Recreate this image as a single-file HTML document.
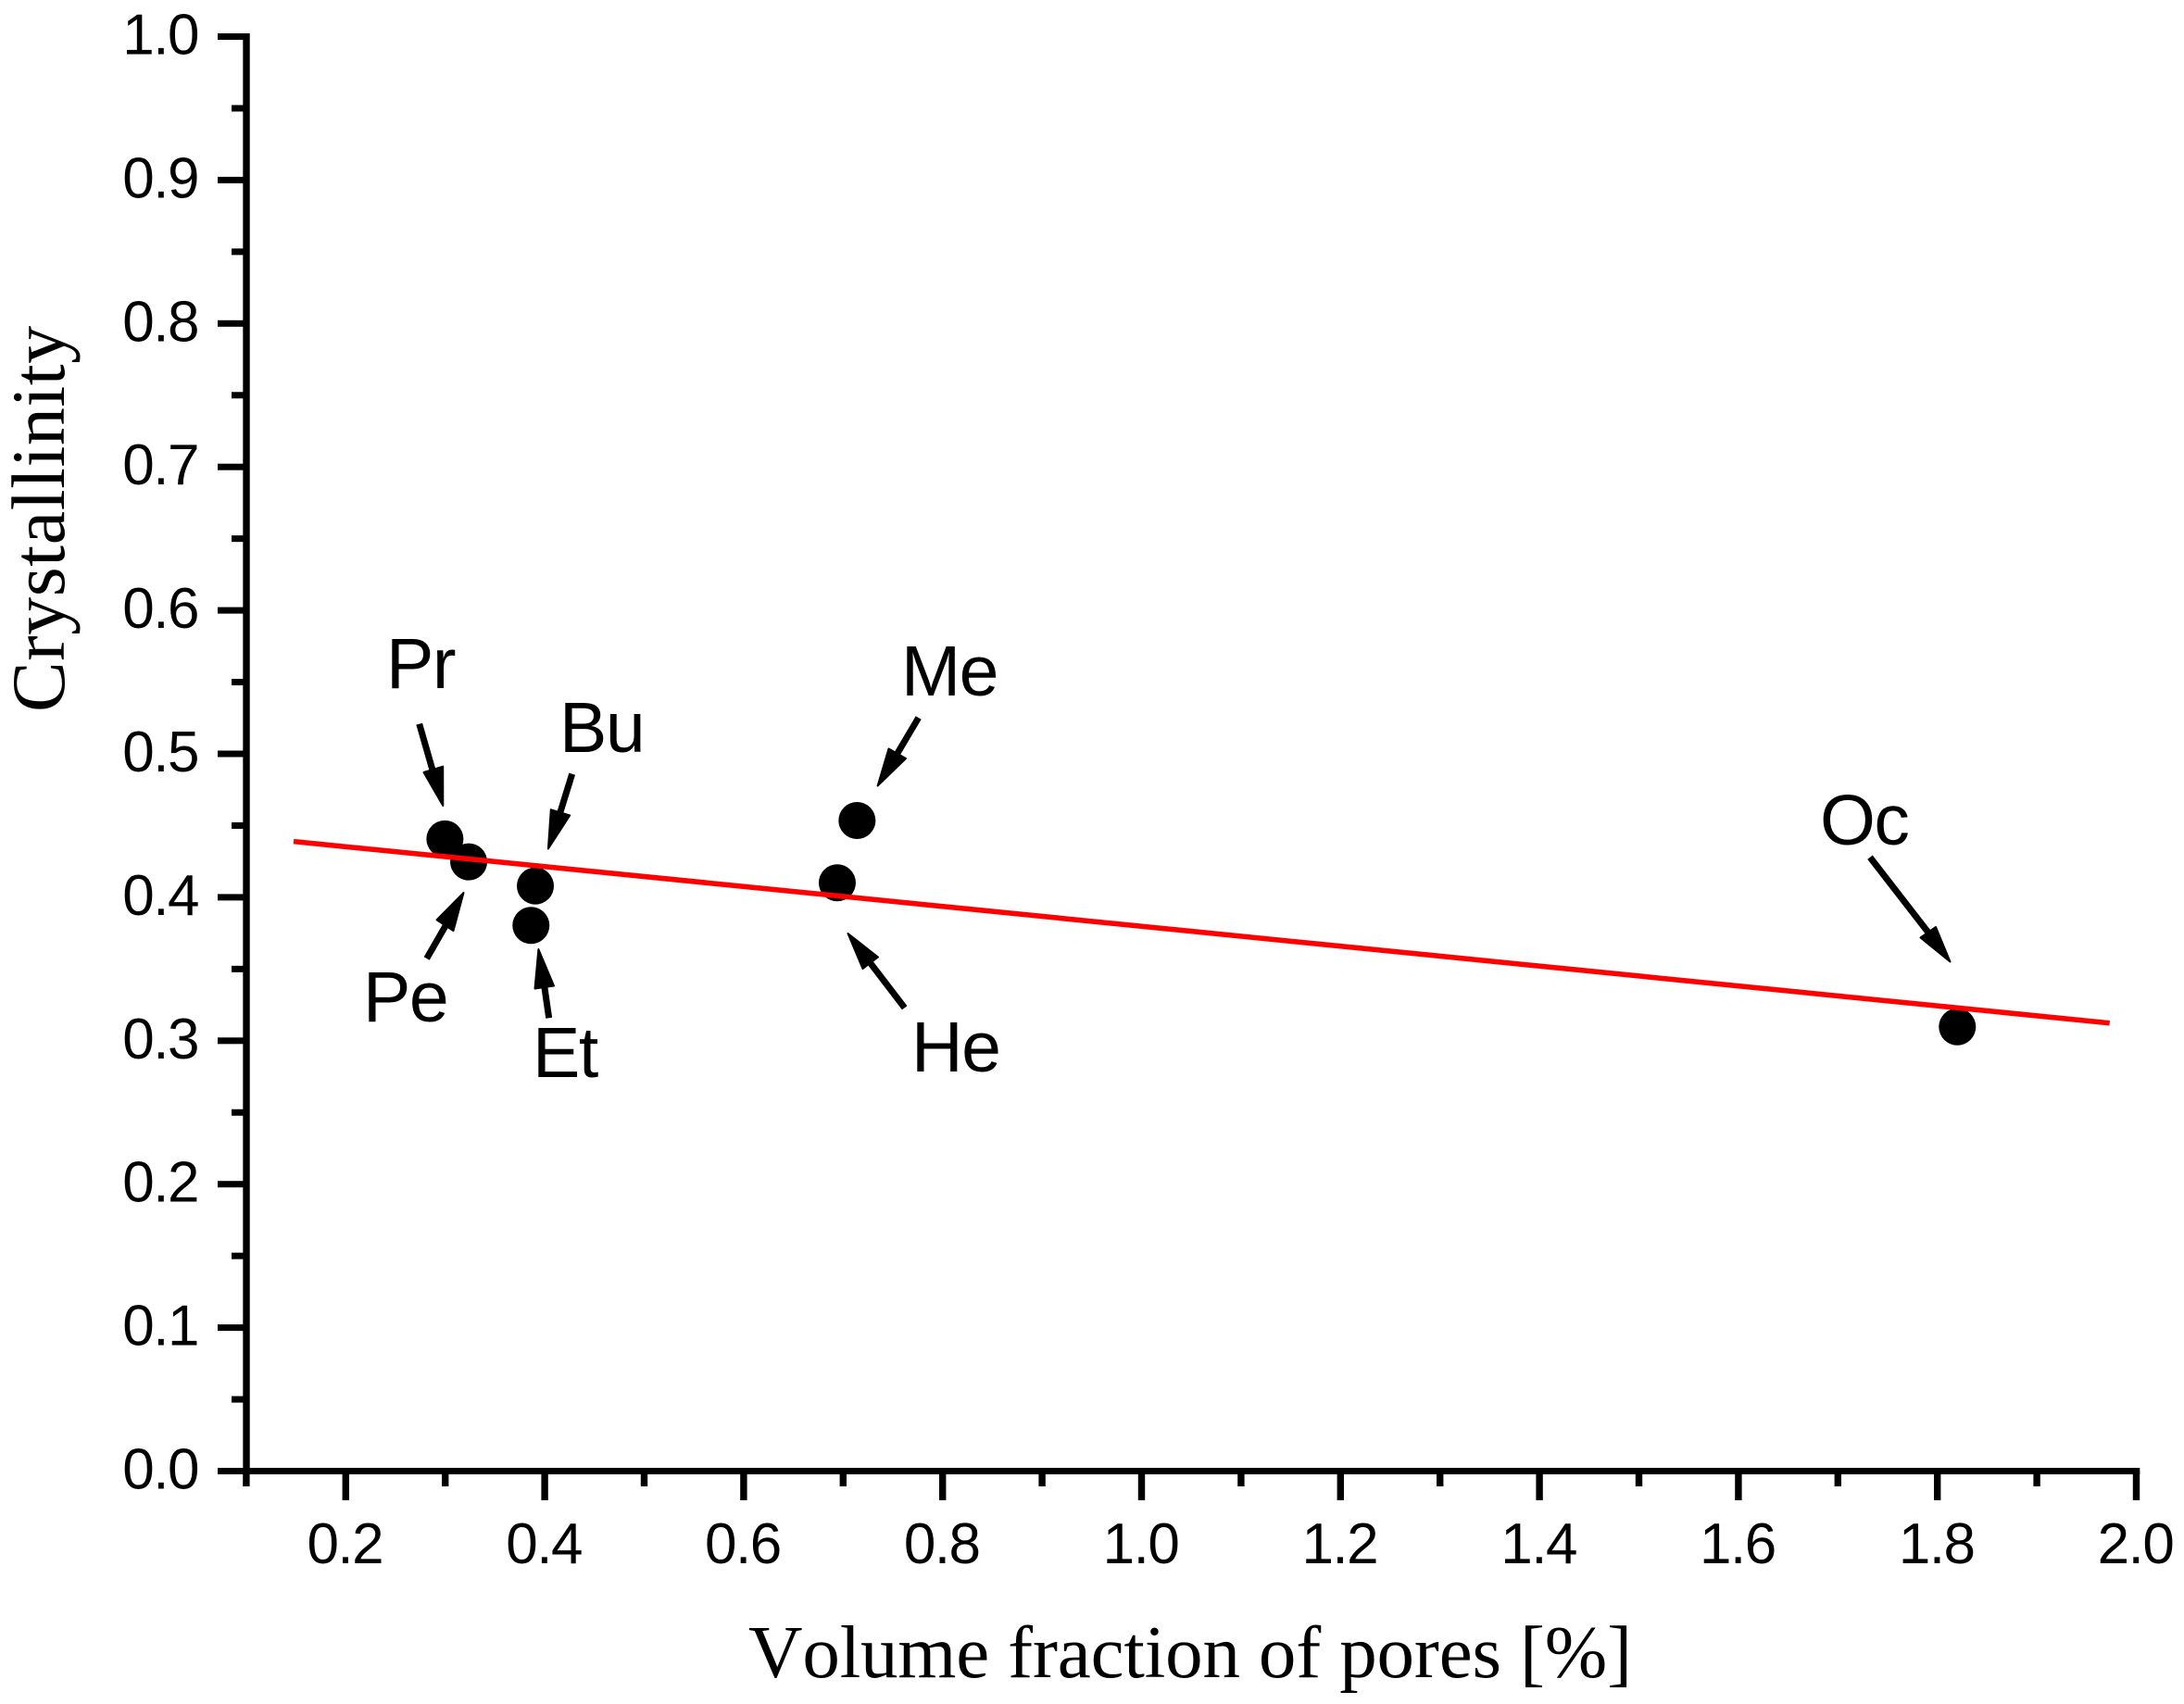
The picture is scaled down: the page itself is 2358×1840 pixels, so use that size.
<!DOCTYPE html>
<html lang="en">
<head>
<meta charset="utf-8">
<title>Crystallinity vs volume fraction of pores</title>
<style>
html,body{margin:0;padding:0;background:#fff;width:2358px;height:1840px;overflow:hidden}
svg{display:block}
.tick{font-family:"Liberation Sans",Arial,sans-serif;font-size:62px;letter-spacing:-1.5px;fill:#000}
.note{font-family:"Liberation Sans",Arial,sans-serif;font-size:77px;letter-spacing:-1.5px;fill:#000}
.title{font-family:"Liberation Serif","Times New Roman",serif;fill:#000;font-kerning:none}
.title-x{font-size:81px;letter-spacing:-0.15px}
.title-y{font-size:82px;letter-spacing:0.6px}
.shaft{stroke:#000;stroke-width:7;fill:none}
.head{fill:#000;stroke:#000;stroke-width:2;stroke-linejoin:round}
</style>
</head>
<body>
<svg id="chart" xmlns="http://www.w3.org/2000/svg" width="2358" height="1840" viewBox="0 0 2358 1840">
  <rect width="2358" height="1840" fill="#fff"/>
  <g id="point-layer"></g>
  <g id="fit-top-layer"></g>
  <g id="axis-layer"></g>

  <text class="title title-y" transform="translate(69 769) rotate(-90)">Crystallinity</text>
  <text class="title title-x" x="808" y="1811">Volume fraction of pores [%]</text>

  <g>
    <text class="note" x="417" y="743">Pr</text>
    <line class="shaft" x1="452.7" y1="781.7" x2="468" y2="835"/>
    <polygon class="head" points="478.3,870 457.5,834 478.2,827.7"/>
  </g>
  <g>
    <text class="note" x="604" y="812">Bu</text>
    <line class="shaft" x1="617.7" y1="835.7" x2="604" y2="880"/>
    <polygon class="head" points="591.9,916.5 594.8,874.3 615.2,880.5"/>
  </g>
  <g>
    <text class="note" x="392" y="1103">Pe</text>
    <line class="shaft" x1="460.7" y1="1035" x2="482" y2="998"/>
    <polygon class="head" points="500.5,964 471.5,993.3 489.5,1005"/>
  </g>
  <g>
    <text class="note" x="575" y="1163">Et</text>
    <line class="shaft" x1="592.7" y1="1099.3" x2="587" y2="1060"/>
    <polygon class="head" points="581.4,1025 577.5,1067.5 598,1064.5"/>
  </g>
  <g>
    <text class="note" x="973" y="751">Me</text>
    <line class="shaft" x1="991.7" y1="775" x2="968" y2="815"/>
    <polygon class="head" points="947.6,848.5 959.5,808.5 978,819"/>
  </g>
  <g>
    <text class="note" x="984" y="1157">He</text>
    <line class="shaft" x1="976.7" y1="1088.3" x2="939" y2="1039"/>
    <polygon class="head" points="915.5,1008 931.5,1046 948,1033.5"/>
  </g>
  <g>
    <text class="note" x="1965" y="912">Oc</text>
    <line class="shaft" x1="2019" y1="925.7" x2="2082" y2="1007"/>
    <polygon class="head" points="2105.5,1038.5 2073.5,1012.5 2090,1001"/>
  </g>
</svg>
<script>
// Chart data
var sampleNames = ['Pr', 'Pe', 'Bu', 'Et', 'Me', 'He', 'Oc'];
var poreFraction = [0.2997, 0.3236, 0.3906, 0.3862, 0.714, 0.6941, 1.8201];
var crystallinity = [0.4407, 0.4247, 0.4079, 0.3804, 0.4535, 0.4101, 0.3097];
var fitX = [0.1476, 1.9732];
var fitY = [0.4389, 0.3123];
var xMajorTicks = ['0.2', '0.4', '0.6', '0.8', '1.0', '1.2', '1.4', '1.6', '1.8', '2.0'];
var xMinorTicks = ['0.1', '0.3', '0.5', '0.7', '0.9', '1.1', '1.3', '1.5', '1.7', '1.9'];
var yMajorTicks = ['0.0', '0.1', '0.2', '0.3', '0.4', '0.5', '0.6', '0.7', '0.8', '0.9', '1.0'];
var yMinorTicks = ['0.05', '0.15', '0.25', '0.35', '0.45', '0.55', '0.65', '0.75', '0.85', '0.95'];

var NS = 'http://www.w3.org/2000/svg';
function xScale(v) { return 265.9 + (v - 0.1) * 1074; }
function yScale(v) { return 1588.5 - v * 1549; }
function make(tag, parent, attrs) {
  var el = document.createElementNS(NS, tag);
  for (var k in attrs) { el.setAttribute(k, attrs[k]); }
  parent.appendChild(el);
  return el;
}

var axisLayer = document.getElementById('axis-layer');
var pointLayer = document.getElementById('point-layer');
var fitLayer = document.getElementById('fit-top-layer');

var yAxisLine = make('rect', axisLayer, { x: 262.3, y: 36, width: 7.4, height: 1556, fill: '#000' });



var xAxisLine = make('rect', axisLayer, { x: 262.3, y: 1585, width: 2048, height: 7, fill: '#000' });



yMajorTicks.forEach(function (t) {
  var py = yScale(parseFloat(t));
  var tick = make('rect', axisLayer, { x: 235, y: py - 3.5, width: 30, height: 7, fill: '#000' });
  
  
  var label = make('text', axisLayer, { x: 214, y: py + 19, 'text-anchor': 'end', 'class': 'tick' });
  
  
  label.textContent = t;
});
yMinorTicks.forEach(function (t) {
  var py = yScale(parseFloat(t));
  var tick = make('rect', axisLayer, { x: 250, y: py - 3.5, width: 15, height: 7, fill: '#000' });
  
  
});
xMajorTicks.forEach(function (t) {
  var px = xScale(parseFloat(t));
  var tick = make('rect', axisLayer, { x: px - 3.7, y: 1588, width: 7.4, height: 32, fill: '#000' });
  
  
  var label = make('text', axisLayer, { x: px - 1, y: 1688, 'text-anchor': 'middle', 'class': 'tick' });
  
  
  label.textContent = t;
});
xMinorTicks.forEach(function (t) {
  var px = xScale(parseFloat(t));
  var tick = make('rect', axisLayer, { x: px - 3.7, y: 1588, width: 7.4, height: 17, fill: '#000' });
  
  
});

sampleNames.forEach(function (name, i) {
  var dot = make('circle', pointLayer, { cx: xScale(poreFraction[i]), cy: yScale(crystallinity[i]), r: 20, fill: '#000' });
  
  
});

var fitLine = make('line', fitLayer, {
  x1: xScale(fitX[0]), y1: yScale(fitY[0]),
  x2: xScale(fitX[1]), y2: yScale(fitY[1]),
  stroke: '#ff0000', 'stroke-width': 5.6
});


</script>
</body>
</html>
